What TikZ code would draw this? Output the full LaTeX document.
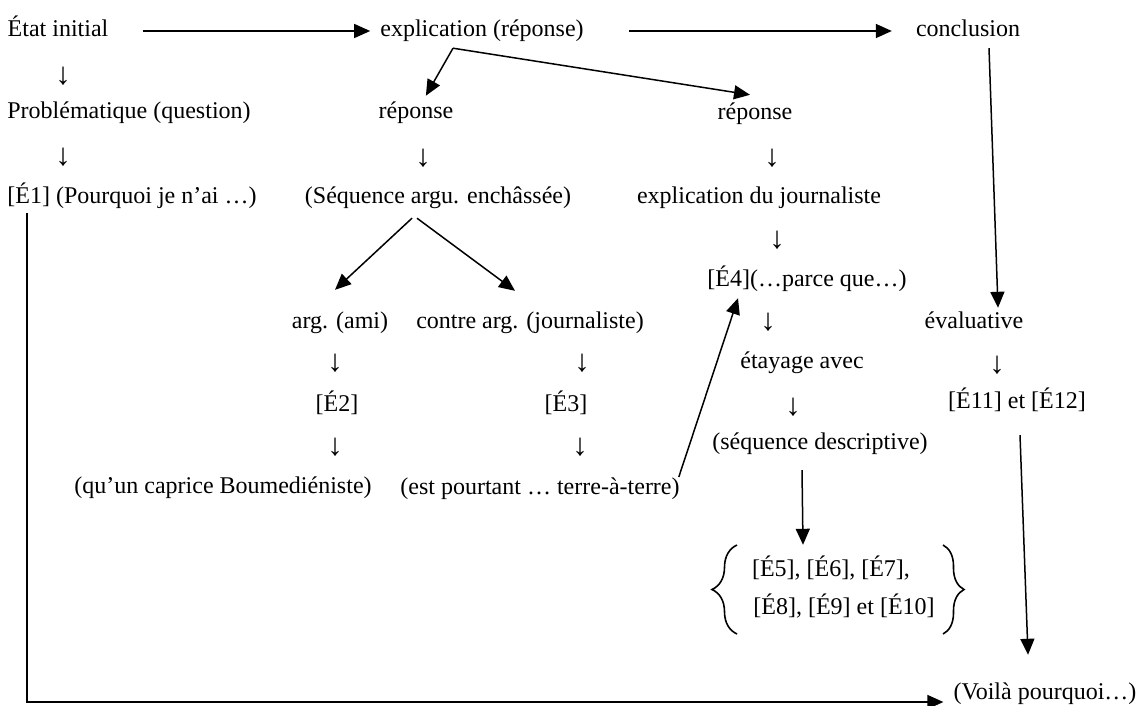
\documentclass[tikz,border=0pt]{standalone}
\usepackage{fontspec}
\setmainfont{Liberation Serif}
\usetikzlibrary{arrows.meta,decorations.pathreplacing}
\newcommand\lblfont{\fontsize{24pt}{28pt}\selectfont}
\newcommand\downfont{\fontsize{31pt}{34pt}\selectfont}
\tikzset{
  lbl/.style={font=\lblfont, inner sep=0pt, text height=17pt, text depth=5pt},
  down/.style={font=\downfont, inner sep=0pt},
  arr/.style={line width=1.5pt, -{Triangle[length=16pt,width=14pt]}},
  brc/.style={line width=1.6pt, decorate, decoration={brace, amplitude=#1}},
}
\begin{document}
\begin{tikzpicture}[x=1pt, y=-1pt]
\useasboundingbox (0,0) rectangle (1142,706);

% text blocks
\node[lbl] (etat)   at (58,31)   {État initial};
\node[lbl] (expl)   at (482,31)  {explication (réponse)};
\node[lbl] (concl)  at (968,31)  {conclusion};
\node[lbl] (prob)   at (129,113) {Problématique (question)};
\node[lbl] (rep1)   at (416,113) {réponse};
\node[lbl] (rep2)   at (755,114) {réponse};
\node[lbl] (e1)     at (132,197) {[É1] (Pourquoi je n’ai …)};
\node[lbl] (seq)    at (438,197) {(Séquence argu. enchâssée)};
\node[lbl] (expj)   at (759,197) {explication du journaliste};
\node[lbl] (e4)     at (807,280) {[É4](…parce que…)};
\node[lbl] (arg)    at (340,322) {arg. (ami)};
\node[lbl] (contre) at (530,322) {contre arg. (journaliste)};
\node[lbl] (eval)   at (974,322) {évaluative};
\node[lbl] (etay)   at (802,362) {étayage avec};
\node[lbl] (e2)     at (337,405) {[É2]};
\node[lbl] (e3)     at (566,405) {[É3]};
\node[lbl] (e11)    at (1017,402) {[É11] et [É12]};
\node[lbl] (desc)   at (820,443) {(séquence descriptive)};
\node[lbl] (capr)   at (223,487) {(qu’un caprice Boumediéniste)};
\node[lbl] (est)    at (540,488) {(est pourtant … terre-à-terre)};
\node[lbl] (e5)     at (831,570) {[É5], [É6], [É7],};
\node[lbl] (e8)     at (844,608) {[É8], [É9] et [É10]};
\node[lbl] (voila)  at (1045,693) {(Voilà pourquoi…)};

% small arrow glyphs between lines
\node[down] (d1)  at (63,76)   {↓};
\node[down] (d2)  at (63,157)  {↓};
\node[down] (d3)  at (423,158) {↓};
\node[down] (d4)  at (772,158) {↓};
\node[down] (d5)  at (777,240) {↓};
\node[down] (d6)  at (768,322) {↓};
\node[down] (d7)  at (335,363) {↓};
\node[down] (d8)  at (582,363) {↓};
\node[down] (d9)  at (997,365) {↓};
\node[down] (d10) at (793,407) {↓};
\node[down] (d11) at (335,447) {↓};
\node[down] (d12) at (580,447) {↓};

% braces around the grouped statements
\draw[brc=25pt] (737,634) -- (737,545);
\draw[brc=21pt] (943,545) -- (943,634);

% connectors
\draw[arr, shorten <=34pt, shorten >=10pt] (etat) -- (expl);
\draw[arr, shorten <=45pt, shorten >=24pt] (expl) -- (concl);
\coordinate (fork) at ([xshift=-29pt,yshift=-6pt]expl.south);
\draw[arr, shorten >=7pt] (fork) -- (rep1);
\draw[arr] (fork) -- ([xshift=-5pt,yshift=8pt]rep2.north);
\draw[arr] ([xshift=-26pt,yshift=-10pt]seq.south) -- ([xshift=-5pt,yshift=21pt]arg.north);
\draw[arr] ([xshift=-21pt,yshift=-10pt]seq.south) -- ([xshift=-15pt,yshift=20pt]contre.north);
\draw[arr] ([xshift=-1pt,yshift=11pt]est.east) -- ([xshift=-69pt,yshift=-7pt]e4.south);
\draw[arr] ([xshift=21pt,yshift=-6pt]concl.south) -- ([xshift=24pt,yshift=3pt]eval.north);
\draw[arr] ([xshift=-18pt,yshift=-16pt]desc.south) -- ([xshift=-28pt,yshift=14pt]e5.north);
\draw[arr] ([xshift=3pt,yshift=-22pt]e11.south) -- ([xshift=-17pt,yshift=27pt]voila.north);
\draw[arr] ([xshift=20pt,yshift=-5pt]e1.south west) |- ([xshift=-10pt,yshift=-9pt]voila.west);
\end{tikzpicture}
\end{document}
